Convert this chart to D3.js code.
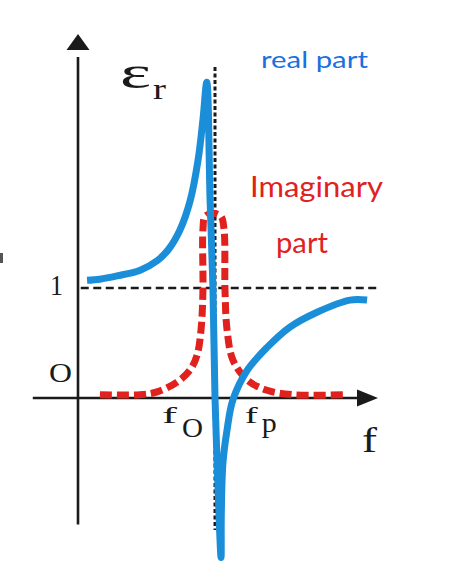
<html>
<head>
<style>
  body { margin: 0; background: #fff; }
  svg { display: block; }
</style>
</head>
<body>
<script src="https://d3js.org/d3.v7.min.js"></script>
<script>

    // real part of the permittivity
    var realF   = [0.066, 0.16, 0.285, 0.45, 0.58, 0.66, 0.745, 0.82, 0.876, 0.912, 0.94,
                   0.964, 0.985, 1.0, 1.02, 1.044,
                   1.046, 1.058, 1.088, 1.13, 1.234, 1.38, 1.547, 1.745, 1.985, 2.11];
    var realEps = [1.07, 1.08, 1.11, 1.16, 1.25, 1.35, 1.53, 1.80, 2.16, 2.53, 2.87,
                   1.8, 1.0, 0, -0.75, -1.45,
                   -1.06, -0.59, -0.29, -0.02, 0.25, 0.46, 0.645, 0.78, 0.89, 0.89];

    // imaginary part
    var imagF   = [0.16, 0.45, 0.577, 0.723, 0.818, 0.869, 0.898, 0.912, 0.912, 0.927, 0.985,
                   1.044, 1.066, 1.073, 1.088, 1.131, 1.234, 1.38, 1.57, 1.95];
    var imagEps = [0.03, 0.03, 0.055, 0.145, 0.255, 0.39, 0.62, 0.98, 1.53, 1.65, 1.68,
                   1.65, 1.53, 0.98, 0.62, 0.345, 0.165, 0.07, 0.03, 0.03];

    var yTickValues = [1, 0];
    var yTickLabels = ["1", "O"];
    var f0 = 1, fp = 1.13;

    var W = 474, H = 582;
    var blue = "#1a8ed8", red = "#e0211d", ink = "#1a1a1a";

    var x = d3.scaleLinear().domain([0, 2.2]).range([78, 379.4]);
    var y = d3.scaleLinear().domain([0, 1]).range([398, 288]);

    var svg = d3.select("body").append("svg")
        .attr("width", W)
        .attr("height", H);

    // dashed line at eps = 1
    svg.append("line")
        .attr("x1", x(0.02)).attr("x2", x(2.19))
        .attr("y1", y(1)).attr("y2", y(1))
        .style("stroke", ink).style("stroke-width", 2.6)
        .style("stroke-dasharray", "8,4.5");

    // dotted line at the resonance
    svg.append("line")
        .attr("x1", x(f0)).attr("x2", x(f0))
        .attr("y1", y(3.01)).attr("y2", y(-1.2))
        .style("stroke", ink).style("stroke-width", 3)
        .style("stroke-dasharray", "4,2.5");

    // axes
    svg.append("line")
        .attr("x1", x(-0.33)).attr("x2", x(2.05))
        .attr("y1", y(0)).attr("y2", y(0))
        .style("stroke", ink).style("stroke-width", 2.6);
    svg.append("path")
        .attr("d", "M" + x(2.19) + "," + y(0) + "L" + (x(2.19) - 21) + "," + (y(0) - 8.5) +
                   "L" + (x(2.19) - 21) + "," + (y(0) + 8.5) + "Z")
        .style("fill", ink);

    svg.append("line")
        .attr("x1", x(0)).attr("x2", x(0))
        .attr("y1", y(-1.15)).attr("y2", y(3.1))
        .style("stroke", ink).style("stroke-width", 2.6);
    svg.append("path")
        .attr("d", "M" + x(0) + "," + y(3.31) + "L" + (x(0) - 11.5) + "," + (y(3.31) + 16) +
                   "L" + (x(0) + 11.5) + "," + (y(3.31) + 16) + "Z")
        .style("fill", ink);

    var line = d3.line()
        .x(function(d) { return x(d[0]); })
        .y(function(d) { return y(d[1]); })
        .curve(d3.curveCatmullRom.alpha(0.5));

    // imaginary part
    svg.append("path")
        .datum(d3.zip(imagF, imagEps))
        .attr("d", line)
        .style("fill", "none").style("stroke", red)
        .style("stroke-width", 7).style("stroke-dasharray", "12,5");

    // real part
    svg.append("path")
        .datum(d3.zip(realF, realEps))
        .attr("d", line)
        .style("fill", "none").style("stroke", blue)
        .style("stroke-width", 7).style("stroke-linejoin", "miter");

    // text squeezed/stretched to the width it has in the picture
    var serif = "'Liberation Serif', 'Times New Roman', serif";
    var sans = "Lato, 'Open Sans', sans-serif";
    function label(tx, ty, str, size, family, color, width) {
        var t = svg.append("text")
            .attr("transform", "translate(" + tx + "," + ty + ")")
            .style("font-family", family).style("font-size", size + "px")
            .style("fill", color)
            .text(str);
        var w = t.node().getComputedTextLength();
        t.attr("transform", "translate(" + tx + "," + ty + ") scale(" + (width / w) + ",1)");
        return t;
    }

    // tick labels
    label(50, y(yTickValues[0]) + 7, yTickLabels[0], 30, serif, ink, 13);
    label(49, y(yTickValues[1]) - 16, yTickLabels[1], 27, serif, ink, 23);

    label(x(f0) - 53, y(0) + 25, "f", 24, serif, ink, 15);
    label(x(f0) - 33, y(0) + 39, "O", 27, serif, ink, 21);
    label(x(fp) + 12, y(0) + 25, "f", 24, serif, ink, 13);
    label(x(fp) + 29, y(0) + 34, "p", 27, serif, ink, 15);

    label(362, 452, "f", 35, serif, ink, 15);

    // epsilon_r
    label(120, 88, "\u03b5", 46, serif, ink, 31);
    label(153, 99, "r", 30, serif, ink, 13);

    // series labels
    label(261, 68, "real part", 23, sans, "#1a70e0", 107);
    label(250, 197, "Imaginary", 29, sans, red, 133);
    label(276, 253, "part", 29, sans, red, 52);

    // small stray mark on the left edge
    svg.append("rect")
        .attr("x", 0).attr("y", 253).attr("width", 3).attr("height", 10)
        .style("fill", "#555");

</script>
</body>
</html>
